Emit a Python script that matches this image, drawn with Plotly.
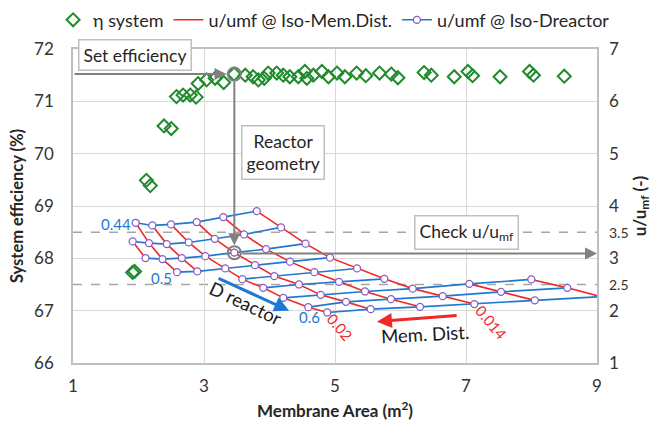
import plotly.graph_objects as go

# ---------------- data ----------------
# System efficiency (left axis)
eta_area = [1.91, 1.94, 2.12, 2.18, 2.39, 2.50, 2.58, 2.68, 2.79, 2.88,
            2.91, 3.04, 3.17, 3.30, 3.46, 3.63, 3.75, 3.83, 3.92, 3.98,
            4.11, 4.21, 4.31, 4.44, 4.54, 4.57, 4.67, 4.80, 4.90, 5.03,
            5.15, 5.33, 5.47, 5.68, 5.86, 5.96, 6.36, 6.47, 6.82, 7.03,
            7.10, 7.52, 7.97, 8.03, 8.50]
eta_sys = [67.73, 67.75, 69.49, 69.39, 70.53, 70.48, 71.09, 71.12, 71.12, 71.08,
           71.34, 71.41, 71.44, 71.36, 71.52, 71.50, 71.47, 71.41, 71.44, 71.54,
           71.54, 71.50, 71.47, 71.47, 71.57, 71.44, 71.50, 71.57, 71.47, 71.54,
           71.47, 71.54, 71.49, 71.54, 71.52, 71.45, 71.55, 71.50, 71.47, 71.57,
           71.49, 71.47, 71.57, 71.50, 71.48]

# u/umf mesh (right axis): rows = reactor diameter, columns = membrane distance
D_reactor = [0.44, 0.46, 0.48, 0.50, 0.52, 0.54, 0.56, 0.58, 0.60]
mem_dist = [0.026, 0.024, 0.022, 0.020, 0.018, 0.016, 0.014, 0.012, 0.010]
N = None
area_grid = [
    [N,     1.957, 2.211, 2.496, 2.889, 3.295, 3.805, N,     N],
    [1.911, 2.160, 2.431, 2.766, 3.163, 3.611, 4.176, N,     N],
    [2.107, 2.366, 2.661, 3.020, 3.463, 3.947, 4.550, N,     N],
    [N,     2.588, 2.898, 3.324, 3.779, 4.313, 4.924, N,     N],
    [N,     N,     N,     3.585, 4.073, 4.684, 5.336, N,     N],
    [N,     N,     N,     3.905, 4.450, 5.061, 5.753, N,     N],
    [N,     N,     N,     4.211, 4.782, 5.458, 6.186, 7.050, 7.997],
    [N,     N,     N,     4.592, 5.168, 5.855, 6.644, 7.534, 8.547],
    [N,     N,     N,     4.882, 5.545, 6.298, 7.127, 8.050, 9.060],
]
uumf_grid = [
    [N,     3.679, 3.629, 3.648, 3.692, 3.788, 3.902, N,     N],
    [3.323, 3.291, 3.272, 3.304, 3.373, 3.457, 3.591, N,     N],
    [3.004, 2.985, 3.004, 3.042, 3.109, 3.176, 3.281, N,     N],
    [N,     2.736, 2.750, 2.807, 2.870, 2.937, 3.013, N,     N],
    [N,     N,     N,     2.602, 2.660, 2.736, 2.807, N,     N],
    [N,     N,     N,     2.436, 2.501, 2.551, 2.608, N,     N],
    [N,     N,     N,     2.245, 2.302, 2.367, 2.421, 2.512, 2.597],
    [N,     N,     N,     2.067, 2.168, 2.220, 2.277, 2.360, 2.436],
    [N,     N,     N,     1.966, 2.029, 2.073, 2.126, 2.197, 2.267],
]

# selected design point
sel_area = 3.463
sel_eta = 71.52
sel_uumf = 3.109
check_uumf = 3.09

x_ticks = [1, 3, 5, 7, 9]
y_ticks = [66, 67, 68, 69, 70, 71, 72]
y2_ticks = [1, 2, 2.5, 3, 3.5, 4, 5, 6, 7]

# ---------------- style ----------------
FONT = "Lato"
GREEN = "#1f8b2c"
RED = "#f02828"
BLUE = "#1f78d1"
PURPLE = "#8a5cc6"
GRAY = "#808080"
TXT = "#333333"

fig = go.Figure()

# red iso-membrane-distance lines (columns)
first = True
for j in range(len(mem_dist)):
    xs, ys = [], []
    for i in range(len(D_reactor)):
        if area_grid[i][j] is not None:
            xs.append(area_grid[i][j]); ys.append(uumf_grid[i][j])
    if len(xs) < 2:
        continue
    fig.add_trace(go.Scatter(x=xs, y=ys, yaxis="y2", mode="lines",
                             line=dict(color=RED, width=1.6),
                             name="u/umf @ Iso-Mem.Dist.", legendgroup="red",
                             showlegend=first, legendrank=2))
    first = False

# blue iso-D-reactor lines (rows) with markers
first = True
for i in range(len(D_reactor)):
    xs, ys = [], []
    for j in range(len(mem_dist)):
        if area_grid[i][j] is not None:
            xs.append(area_grid[i][j]); ys.append(uumf_grid[i][j])
    fig.add_trace(go.Scatter(x=xs, y=ys, yaxis="y2", mode="lines+markers",
                             line=dict(color=BLUE, width=1.6),
                             marker=dict(symbol="circle", size=7, color="white",
                                         line=dict(color=PURPLE, width=1.3)),
                             name="u/umf @ Iso-Dreactor", legendgroup="blue",
                             showlegend=first, legendrank=3))
    first = False

# efficiency
fig.add_trace(go.Scatter(x=eta_area, y=eta_sys, mode="markers",
                         marker=dict(symbol="diamond-open", size=10, color=GREEN,
                                     line=dict(color=GREEN, width=2)),
                         name="η system", legendrank=1))

# ---------------- shapes ----------------
shapes = []
for v in (3.5, 2.5):
    shapes.append(dict(type="line", xref="paper", x0=0, x1=1, yref="y2", y0=v, y1=v,
                       line=dict(color="#a6a6a6", width=1.5, dash="dash"), layer="below"))
for (yr, yv) in (("y", sel_eta), ("y2", sel_uumf)):
    shapes.append(dict(type="circle", xref="x", yref=yr, xsizemode="pixel", ysizemode="pixel",
                       xanchor=sel_area, yanchor=yv, x0=-6.5, x1=6.5, y0=-6.5, y1=6.5,
                       line=dict(color=GRAY, width=2)))

# ---------------- annotations ----------------
ann = []
ann.append(dict(x=sel_area - 0.12, y=sel_eta, xref="x", yref="y", ax=1, ay=sel_eta,
                axref="x", ayref="y", showarrow=True, arrowhead=2, arrowsize=1.2,
                arrowwidth=2, arrowcolor=GRAY, text=""))
ann.append(dict(x=sel_area, y=sel_uumf + 65 + 0.14, xref="x", yref="y", ax=sel_area,
                ay=sel_eta - 0.12, axref="x", ayref="y", showarrow=True, arrowhead=2,
                arrowsize=1.2, arrowwidth=2, arrowcolor=GRAY, text=""))
ann.append(dict(x=9, y=check_uumf, xref="x", yref="y2", ax=sel_area + 0.1, ay=check_uumf,
                axref="x", ayref="y2", showarrow=True, arrowhead=2, arrowsize=1.2,
                arrowwidth=2, arrowcolor=GRAY, text=""))
ann.append(dict(x=4.30, y=2.00, xref="x", yref="y2", ax=3.20, ay=2.63, axref="x", ayref="y2",
                showarrow=True, arrowhead=2, arrowsize=1, arrowwidth=3, arrowcolor=BLUE, text=""))
ann.append(dict(x=5.64, y=1.79, xref="x", yref="y2", ax=6.88, ay=1.91, axref="x", ayref="y2",
                showarrow=True, arrowhead=2, arrowsize=1, arrowwidth=3, arrowcolor=RED, text=""))

box = dict(bgcolor="white", bordercolor="#bfbfbf", borderwidth=1.5, borderpad=4,
           showarrow=False, font=dict(family=FONT, size=17.5, color="#262626"))
ann.append(dict(x=1.947, y=71.88, xref="x", yref="y", text="Set efficiency", **box))
ann.append(dict(x=4.206, y=70.03, xref="x", yref="y", text="Reactor<br>geometry", **box))
ann.append(dict(x=7.015, y=3.50, xref="x", yref="y2", text="Check u/u<sub>mf</sub>", **box))

def lab(x, y, t, color, size=15, angle=0):
    return dict(x=x, y=y, xref="x", yref="y2", text=t, showarrow=False, textangle=angle,
                font=dict(family=FONT, size=size, color=color))

ann.append(lab(1.649, 3.654, "0.44", BLUE))
ann.append(lab(2.344, 2.621, "0.5", BLUE))
ann.append(lab(4.603, 1.876, "0.6", BLUE))
ann.append(lab(5.076, 1.685, "0.02", RED, angle=50))
ann.append(lab(7.382, 1.780, "0.014", RED, angle=50))
ann.append(lab(3.626, 2.143, "D reactor", "#1a1a1a", size=18.5, angle=25))
ann.append(lab(6.374, 1.551, "Mem. Dist.", "#1a1a1a", size=18.5, angle=-3))

y2_text = [("<span style='font-size:14px'>%g</span>" % v) if v in (2.5, 3.5) else "%g" % v
           for v in y2_ticks]

fig.update_layout(
    width=656, height=429,
    margin=dict(l=73, r=59, t=49, b=66, autoexpand=False),
    paper_bgcolor="white", plot_bgcolor="white",
    font=dict(family=FONT, size=17, color=TXT),
    showlegend=True,
    legend=dict(orientation="h", x=-0.038, xanchor="left", y=1.092, yanchor="middle",
                font=dict(family=FONT, size=18, color="#262626"),
                itemwidth=30, tracegroupgap=0, traceorder="normal",
                bgcolor="rgba(0,0,0,0)"),
    xaxis=dict(range=[1, 9], tickvals=x_ticks, showgrid=True, gridcolor="#d9d9d9",
               gridwidth=1, showline=True, linecolor="#bfbfbf", linewidth=1.5, mirror=True,
               zeroline=False, ticks="", ticklabelstandoff=7,
               title=dict(text="<b>Membrane Area (m<sup>2</sup>)</b>",
                          font=dict(family=FONT, size=17, color="#262626"), standoff=10)),
    yaxis=dict(range=[66, 72], tickvals=y_ticks, showgrid=True, gridcolor="#d9d9d9",
               showline=True, linecolor="#bfbfbf", linewidth=1.5, mirror=True,
               zeroline=False, ticks="", ticklabelstandoff=14,
               title=dict(text="<b>System efficiency (%)</b>",
                          font=dict(family=FONT, size=16.5, color="#262626"), standoff=6)),
    yaxis2=dict(range=[1, 7], tickvals=y2_ticks, ticktext=y2_text, overlaying="y",
                side="right", showgrid=False, zeroline=False, ticks="",
                ticklabelstandoff=11,
                title=dict(text="<b>u/u<sub>mf</sub> (-)</b>",
                           font=dict(family=FONT, size=17, color="#262626"), standoff=4)),
    shapes=shapes, annotations=ann,
)

fig.write_html("out.html")
